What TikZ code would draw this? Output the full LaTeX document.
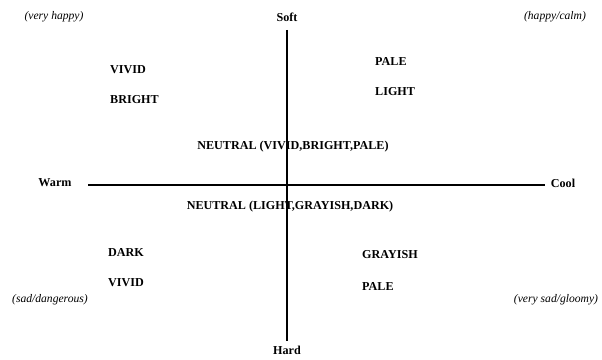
\documentclass[tikz,border=0pt]{standalone}
\usepackage{fontspec}
\setmainfont{Liberation Serif}
\usepackage{tikz}
\usetikzlibrary{positioning}

\tikzset{
  tone/.style={font=\fontsize{11.5}{13}\selectfont\bfseries, inner sep=0pt, anchor=west},
  mood/.style={font=\fontsize{11}{13}\selectfont\itshape, inner sep=0pt},
  axis/.style={line width=2.8pt}
}

\begin{document}
\begin{tikzpicture}[x=1cm/30, y=-1cm/30]
  \useasboundingbox (0,0) rectangle (602,360);

  % Axis ends
  \node[tone, anchor=center] (soft) at (287,17) {Soft};
  \node[tone, anchor=center] (hard) at (287,350) {Hard};
  \node[tone, anchor=center] (warm) at (55,183) {Warm};
  \node[tone, anchor=center] (cool) at (563,183) {Cool};
  \coordinate (top) at (287,30);
  \coordinate (bottom) at (287,341);
  \coordinate (left) at (88,185);
  \coordinate (right) at (545,185);

  % Axes
  \draw[axis] (top) -- (bottom);
  \draw[axis] (left) -- (right);

  % Moods in the corners
  \node[mood] (vhappy) at (54,17) {(very happy)};
  \node[mood] (calm) at (555,17) {(happy/calm)};
  \node[mood] (sad) at (50,300) {(sad/dangerous)};
  \node[mood] (gloomy) at (556,300) {(very sad/gloomy)};

  % Tones, upper left and right
  \node[tone] (vivid1) at (110,70) {VIVID};
  \node[tone] (bright) at (110,100) {BRIGHT};
  \node[tone] (pale1) at (375,61) {PALE};
  \node[tone] (light) at (375,92) {LIGHT};

  % Neutrals
  \node[tone, anchor=center] (neutralup) at (293,147) {NEUTRAL (VIVID,BRIGHT,PALE)};
  \node[tone, anchor=center] (neutraldown) at (290,207) {NEUTRAL (LIGHT,GRAYISH,DARK)};

  % Tones, lower left and right
  \node[tone] (dark) at (108,253) {DARK};
  \node[tone] (vivid2) at (108,283) {VIVID};
  \node[tone] (grayish) at (362,255) {GRAYISH};
  \node[tone] (pale2) at (362,286) {PALE};
\end{tikzpicture}
\end{document}
